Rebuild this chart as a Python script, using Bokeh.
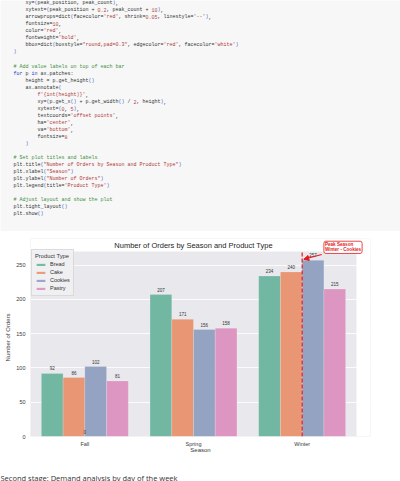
import re
from bokeh.plotting import figure
from bokeh.models import (Range1d, FixedTicker, Arrow, NormalHead, Label, BoxAnnotation,
                          LabelSet, ColumnDataSource, Legend, LegendItem)
from bokeh.core.properties import value, field
from bokeh.embed import file_html
from bokeh.resources import INLINE

# ---------------- data ----------------
seasons = ["Fall", "Spring", "Winter"]
products = ["Bread", "Cake", "Cookies", "Pastry"]
bread = [92, 207, 234]
cake = [86, 171, 240]
cookies = [102, 156, 257]
pastry = [81, 158, 215]
extra_patch_x = [0.0]
extra_patch_h = [0]
colors = ["#72b7a1", "#e99675", "#95a3c3", "#dc96c1"]
y_ticks = [0, 50, 100, 150, 200, 250]
title_text = "Number of Orders by Season and Product Type"
x_label = "Season"
y_label = "Number of Orders"
legend_title = "Product Type"
peak_text = "Peak Season\nWinter - Cookies"
caption = "Second stage: Demand analysis by day of the week"

code_lines = [
    "    xy=(peak_position, peak_count),",
    "    xytext=(peak_position + 0.2, peak_count + 10),",
    "    arrowprops=dict(facecolor='red', shrink=0.05, linestyle='--'),",
    "    fontsize=10,",
    "    color='red',",
    "    fontweight='bold',",
    "    bbox=dict(boxstyle=\"round,pad=0.3\", edgecolor='red', facecolor='white')",
    ")",
    "",
    "# Add value labels on top of each bar",
    "for p in ax.patches:",
    "    height = p.get_height()",
    "    ax.annotate(",
    "        f'{int(height)}',",
    "        xy=(p.get_x() + p.get_width() / 2, height),",
    "        xytext=(0, 5),",
    "        textcoords='offset points',",
    "        ha='center',",
    "        va='bottom',",
    "        fontsize=8",
    "    )",
    "",
    "# Set plot titles and labels",
    "plt.title(\"Number of Orders by Season and Product Type\")",
    "plt.xlabel(\"Season\")",
    "plt.ylabel(\"Number of Orders\")",
    "plt.legend(title='Product Type')",
    "",
    "# Adjust layout and show the plot",
    "plt.tight_layout()",
    "plt.show()",
]

W = 400

# ---------------- code block (own root, page pixel coordinates) ----------------
CODE_H = 231
code_fig = figure(width=W, height=CODE_H, x_range=Range1d(0, W),
                  y_range=Range1d(CODE_H, 0), x_axis_type=None, y_axis_type=None,
                  output_backend="svg", toolbar_location=None, min_border=0,
                  background_fill_color="#f7f7f7", border_fill_color="#f7f7f7",
                  outline_line_color=None)
code_fig.grid.visible = False

tok_re = re.compile(r"(?P<com>#.*$)|(?P<str>f?'[^']*'|\"[^\"]*\")|(?P<num>\b\d+(?:\.\d+)?\b)"
                    r"|(?P<kw>\b(?:for|in)\b)|(?P<br>[()\[\]{}])|(?P<id>[A-Za-z_][A-Za-z_0-9]*)|(?P<ws>\s+)|(?P<oth>.)")
col_map = {"com": "#3f8f3f", "str": "#b03a3a", "num": "#b04a4a", "kw": "#2440c8",
           "br": "#3d63c9", "id": "#333333", "oth": "#333333"}
CH = 3.0
X0 = 13
toks = []
for i, line in enumerate(code_lines):
    yy = 2.7 + 7.04 * i
    cur = None
    for m in tok_re.finditer(line):
        kind = m.lastgroup
        if kind == "ws":
            if cur is not None and cur[3] == "#333333":
                cur[2] += m.group()
            else:
                cur = None
            continue
        color = col_map[kind]
        if cur is not None and cur[3] == color and kind not in ("com", "str"):
            cur[2] += m.group()
        else:
            cur = [X0 + m.start() * CH, yy, m.group(), color]
            toks.append(cur)
code_src = ColumnDataSource(dict(x=[t[0] for t in toks], y=[t[1] for t in toks],
                                 text=[t[2].rstrip() for t in toks], tcolor=[t[3] for t in toks]))
code_fig.text(x="x", y="y", text="text", text_color=field("tcolor"), source=code_src,
              text_font=value("Liberation Mono"), text_font_size="5px",
              text_baseline="middle", text_align="left")

# ---------------- chart ----------------
series = [bread, cake, cookies, pastry]
all_vals = [v for s in series for v in s]
peak_count = max(all_vals)
peak_position = [i for s in series for i, v in enumerate(s) if v == peak_count][0]

n = len(seasons)
axes_w, axes_h = 326, 185        # pixel size of the grey axes area
ymax_axes = peak_count * 1.05
extra_x = 14 / (axes_w / n)      # room right of the axes for the annotation box
y_top = ymax_axes * (axes_h + 13) / axes_h   # room above the axes for title / annotation
chart = figure(width=W, height=236, x_range=Range1d(-0.5, n - 0.5 + extra_x),
               y_range=Range1d(0, y_top), output_backend="svg", title=None,
               toolbar_location=None, min_border_left=30, min_border_right=30,
               min_border_top=7, min_border_bottom=31,
               background_fill_color="#e8e8ed", border_fill_color="white",
               outline_line_color=None)

chart.xgrid.visible = False
chart.ygrid.ticker = FixedTicker(ticks=y_ticks)
chart.ygrid.grid_line_color = "white"
chart.ygrid.grid_line_width = 0.8
# white strips outside the axes area
chart.add_layout(BoxAnnotation(left=n - 0.5, fill_color="white", fill_alpha=1.0,
                               line_color=None, level="glyph"))
chart.add_layout(BoxAnnotation(bottom=ymax_axes, fill_color="white", fill_alpha=1.0,
                               line_color=None, level="glyph"))

chart.xaxis.ticker = FixedTicker(ticks=list(range(n)))
chart.xaxis.major_label_overrides = {i: s for i, s in enumerate(seasons)}
chart.yaxis.ticker = FixedTicker(ticks=y_ticks)
for ax in (chart.xaxis, chart.yaxis):
    ax.axis_line_color = None
    ax.major_tick_line_color = None
    ax.minor_tick_line_color = None
    ax.major_tick_out = 0
    ax.major_tick_in = 0
    ax.major_label_text_font = "Liberation Sans"
    ax.major_label_text_font_size = "5.5px"
    ax.major_label_text_color = "#3a3a3a"
    ax.axis_label_text_font = "Liberation Sans"
    ax.axis_label_text_font_size = "6px"
    ax.axis_label_text_font_style = "normal"
    ax.axis_label_text_color = "#3a3a3a"
chart.xaxis.axis_label = x_label
chart.yaxis.axis_label = y_label
chart.xaxis.major_label_standoff = 4
chart.xaxis.axis_label_standoff = -3
chart.yaxis.major_label_standoff = 5
chart.yaxis.axis_label_standoff = 2

chart.add_layout(Label(x=(n - 1) / 2, y=ymax_axes, y_offset=6, text=title_text,
                       text_font="Liberation Sans", text_font_size="7.5px",
                       text_color="#262626", text_align="center", text_baseline="middle"))

items = []
for j, (name, vals) in enumerate(zip(products, series)):
    src = ColumnDataSource(dict(x=[i + (j - 1.5) * 0.2 for i in range(n)],
                                top=vals, lbl=[str(v) for v in vals]))
    r = chart.vbar(x="x", top="top", width=0.2, source=src, fill_color=colors[j],
                   line_color="white", line_alpha=0.35, line_width=0.5)
    items.append(LegendItem(label=name, renderers=[r]))
    chart.add_layout(LabelSet(x="x", y="top", text="lbl", source=src, text_align="center",
                              text_baseline="bottom", y_offset=3, text_font_size="4.5px",
                              text_font=value("Liberation Sans"), text_color="#333333"))

extra_src = ColumnDataSource(dict(x=extra_patch_x, top=extra_patch_h,
                                  lbl=[str(v) for v in extra_patch_h]))
chart.add_layout(LabelSet(x="x", y="top", text="lbl", source=extra_src, text_align="center",
                          text_baseline="bottom", y_offset=3, text_font_size="4.5px",
                          text_font=value("Liberation Sans"), text_color="#333333"))

legend = Legend(items=items, location=(1, 140), title=legend_title,
                title_text_font="Liberation Sans", title_text_font_size="5.8px",
                title_text_font_style="normal", title_text_color="#333333",
                label_text_font="Liberation Sans", label_text_font_size="5.5px",
                label_text_color="#333333",
                glyph_width=11, glyph_height=3, label_height=8, label_standoff=4,
                spacing=0, padding=3, margin=0, title_standoff=1,
                background_fill_color="#f1f1f3", background_fill_alpha=0.9,
                border_line_color="#d5d5d5", border_line_alpha=0.8)
chart.add_layout(legend)

# dashed peak line across the axes height
chart.segment(x0=[peak_position], y0=[0], x1=[peak_position], y1=[ymax_axes],
              line_color="#e31a1c", line_dash="4 2", line_width=1.2)
chart.add_layout(Arrow(end=NormalHead(size=5, fill_color="#e31a1c", line_color="#e31a1c"),
                       x_start=peak_position + 0.18, y_start=peak_count + 8.5,
                       x_end=peak_position + 0.015, y_end=peak_count + 1.5,
                       line_color="#e31a1c", line_width=1.2))
chart.add_layout(Label(x=peak_position + 0.2, y=peak_count + 10, text=peak_text,
                       text_font="Liberation Sans", text_font_size="4.6px",
                       text_font_style="bold", text_color="#e31a1c", text_line_height=1.05,
                       text_align="left", text_baseline="bottom",
                       background_fill_color="white", border_line_color="#e31a1c",
                       border_line_width=0.8, padding=1, border_radius=2))

# ---------------- caption (own root) ----------------
CAP_H = 14
cap_fig = figure(width=W, height=CAP_H, x_range=Range1d(0, W), y_range=Range1d(CAP_H, 0),
                 x_axis_type=None, y_axis_type=None, output_backend="svg",
                 toolbar_location=None, min_border=0, background_fill_color="white",
                 border_fill_color="white", outline_line_color=None)
cap_fig.grid.visible = False
cap_fig.add_layout(Label(x=0, y=10, text=caption, text_font="Open Sans", text_font_size="7.5px",
                         text_color="#333333", text_baseline="middle", text_align="left"))

open("out.html", "w").write(file_html([code_fig, chart, cap_fig], INLINE))
